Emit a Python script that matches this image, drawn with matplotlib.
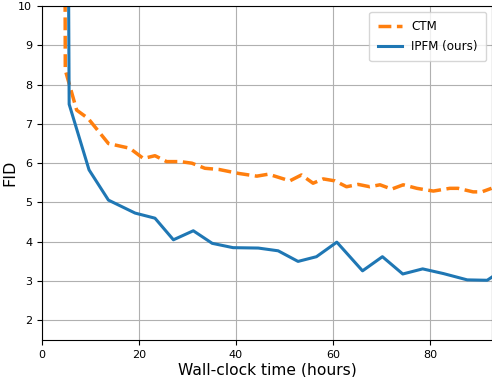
import matplotlib.pyplot as plt

# CTM baseline
ctm_hours = [4.6, 4.8, 7.15, 9.5, 13.7, 18.1, 20.9, 23.3, 25.7, 28.5, 30.9, 33.6,
             36.5, 40.5, 44.3, 46.7, 51.1, 53.5, 55.9, 58.0, 60.4, 62.8, 65.2,
             67.6, 69.7, 72.1, 74.5, 77.3, 80.7, 84.1, 85.8, 88.9, 90.7, 92.7]
ctm_fid = [20.0, 8.37, 7.35, 7.14, 6.5, 6.38, 6.12, 6.19, 6.04, 6.04, 6.0, 5.87,
           5.84, 5.74, 5.67, 5.72, 5.55, 5.70, 5.49, 5.60, 5.55, 5.40, 5.46,
           5.40, 5.45, 5.34, 5.45, 5.36, 5.29, 5.36, 5.36, 5.27, 5.27, 5.36]

# IPFM (ours)
ipfm_hours = [4.7, 5.6, 9.7, 13.7, 19.2, 23.3, 27.1, 31.2, 35.1, 39.4, 44.6,
              48.7, 52.8, 56.6, 60.8, 66.1, 70.2, 74.4, 78.5, 82.8, 87.7, 91.8, 94.0]
ipfm_fid = [30.0, 7.5, 5.83, 5.06, 4.73, 4.6, 4.05, 4.28, 3.96, 3.85, 3.84,
            3.77, 3.50, 3.62, 3.99, 3.26, 3.62, 3.18, 3.31, 3.19, 3.03, 3.02, 3.2]

fig = plt.figure(figsize=(4.92, 3.77), dpi=100)
ax = fig.add_axes([42 / 492, 37 / 377, 450 / 492, 334 / 377])

ax.plot(ctm_hours, ctm_fid, '--', color='#ff7f0e', linewidth=2.5, label='CTM')
ax.plot(ipfm_hours, ipfm_fid, '-', color='#1f77b4', linewidth=2.2, label='IPFM (ours)')

ax.set_xlim(0, 92.8)
ax.set_ylim(1.5, 10)
ax.set_xticks([0, 20, 40, 60, 80])
ax.set_yticks([2, 3, 4, 5, 6, 7, 8, 9, 10])
ax.tick_params(labelsize=8)
ax.grid(True, color='#b0b0b0', linewidth=0.8)
ax.set_xlabel('Wall-clock time (hours)', fontsize=11.2, labelpad=2)
ax.set_ylabel('FID', fontsize=11.5, labelpad=1)
ax.legend(loc='upper right', fontsize=8.6, borderpad=0.7, labelspacing=0.55)

fig.savefig('out.png', dpi=100)
